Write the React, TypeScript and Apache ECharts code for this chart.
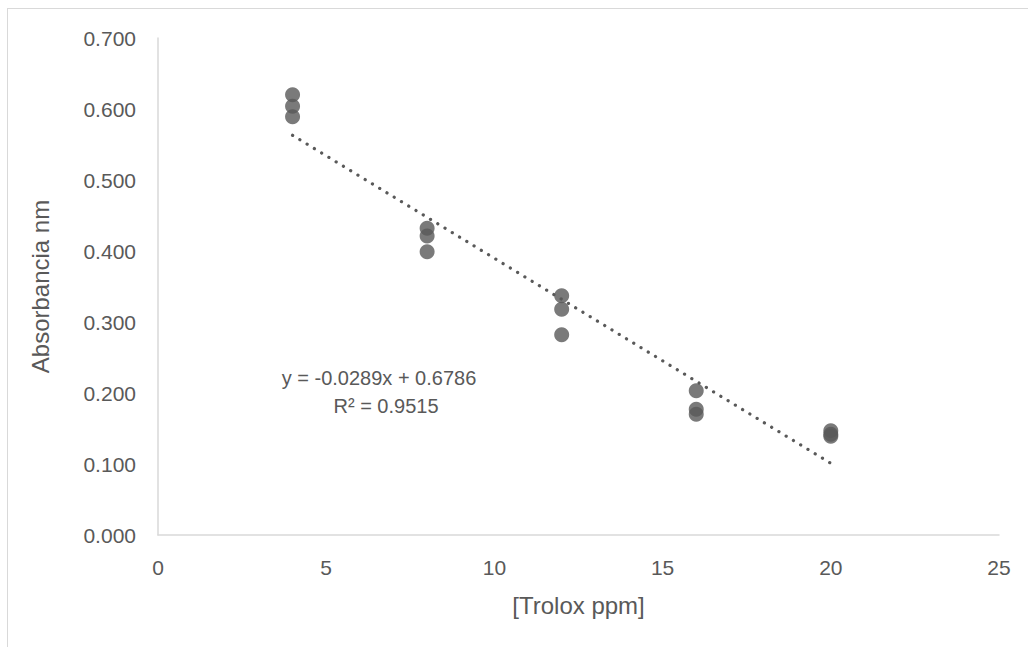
import React, { useEffect, useRef } from "react";
import * as echarts from "echarts";

const xValues = [4, 4, 4, 8, 8, 8, 12, 12, 12, 16, 16, 16, 20, 20, 20];
const yValues = [0.620, 0.604, 0.589, 0.432, 0.421, 0.399, 0.337, 0.318, 0.282, 0.203, 0.177, 0.170, 0.147, 0.142, 0.139];
const trendX = [4, 20];
const trendY = [0.563, 0.101];
const equationText = "y = -0.0289x + 0.6786";
const r2Text = "R² = 0.9515";
const xAxisTitle = "[Trolox ppm]";
const yAxisTitle = "Absorbancia nm";

const TEXT = "#595959";
const FONT = "'Liberation Sans', Arial, sans-serif";

export default function App() {
  const ref = useRef<HTMLDivElement>(null);
  useEffect(() => {
    if (!ref.current) return;
    const chart = echarts.init(ref.current, undefined, { renderer: "svg" });
    const points = xValues.map((x, i) => [x, yValues[i]]);
    const trend = trendX.map((x, i) => [x, trendY[i]]);
    chart.setOption({
      animation: false,
      backgroundColor: "#ffffff",
      textStyle: { fontFamily: FONT },
      grid: { left: 150, top: 29, width: 841, height: 497, containLabel: false },
      xAxis: {
        type: "value",
        min: 0,
        max: 25,
        interval: 5,
        name: xAxisTitle,
        nameLocation: "middle",
        nameGap: 58,
        nameTextStyle: { color: TEXT, fontSize: 24, fontFamily: FONT },
        axisLine: { show: true, lineStyle: { color: "#d9d9d9", width: 1.5 } },
        axisTick: { show: false },
        splitLine: { show: false },
        axisLabel: { color: TEXT, fontSize: 21, margin: 22, fontFamily: FONT },
      },
      yAxis: {
        type: "value",
        min: 0,
        max: 0.7,
        interval: 0.1,
        name: yAxisTitle,
        nameLocation: "middle",
        nameGap: 106,
        nameRotate: 90,
        nameTextStyle: { color: TEXT, fontSize: 24, fontFamily: FONT },
        axisLine: { show: true, lineStyle: { color: "#d9d9d9", width: 1.5 } },
        axisTick: { show: false },
        splitLine: { show: false },
        axisLabel: {
          color: TEXT,
          fontSize: 21,
          margin: 22,
          fontFamily: FONT,
          formatter: (v: number) => v.toFixed(3),
        },
      },
      series: [
        {
          type: "line",
          data: trend,
          symbol: "none",
          silent: true,
          lineStyle: { color: "#595959", width: 3.2, type: [0.1, 8.4], cap: "round" },
          z: 2,
        },
        {
          type: "scatter",
          data: points,
          symbol: "circle",
          symbolSize: 15,
          itemStyle: { color: "#595959" },
          z: 3,
        },
      ],
      graphic: [
        {
          type: "text",
          x: 371,
          y: 369,
          style: {
            text: equationText,
            fill: TEXT,
            font: `20px ${FONT}`,
            textAlign: "center",
            textVerticalAlign: "middle",
          },
        },
        {
          type: "text",
          x: 378,
          y: 397,
          style: {
            text: r2Text,
            fill: TEXT,
            font: `20px ${FONT}`,
            textAlign: "center",
            textVerticalAlign: "middle",
          },
        },
      ],
    });
    return () => chart.dispose();
  }, []);
  return (
    <div
      style={{
        position: "absolute",
        left: 7,
        top: 8,
        width: 1021,
        height: 639,
        boxSizing: "border-box",
        borderLeft: "1px solid #d9d9d9",
        borderTop: "1px solid #d9d9d9",
        background: "#ffffff",
      }}
    >
      <div ref={ref} style={{ width: 1020, height: 638 }} />
    </div>
  );
}
